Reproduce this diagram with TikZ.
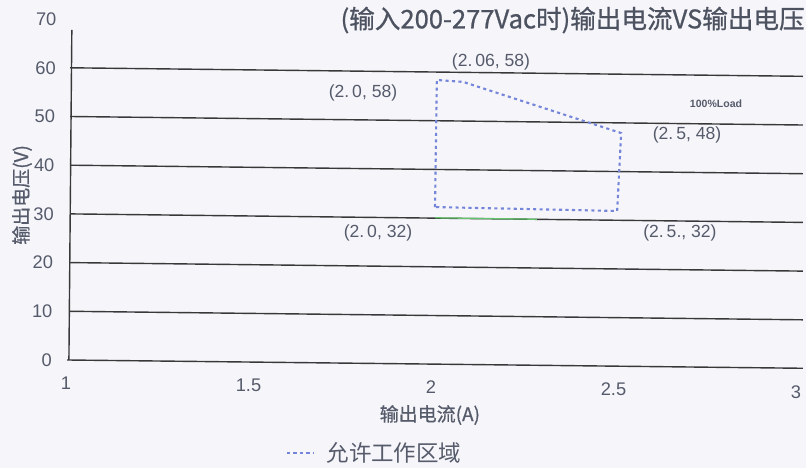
\documentclass[tikz,border=0pt]{standalone}
\usepackage{fontspec}
\setmainfont{Liberation Sans}
\newfontfamily\cjk{Noto Sans CJK SC}
\newfontfamily\cjkm[FakeBold=0.8]{Noto Sans CJK SC}
\usepackage{xcolor}
\usepackage{tikz}
\usetikzlibrary{calc}
\definecolor{paper}{HTML}{F6F5FA}
\definecolor{ink}{HTML}{383838}
\definecolor{txt}{HTML}{555B6B}
\definecolor{dots}{HTML}{7585DA}
\definecolor{scan}{HTML}{62C46A}
\tikzset{
  gline/.style={draw=ink, line width=1pt},
  region/.style={draw=dots, line width=1.5pt, dash pattern=on 2.2pt off 2.4pt},
  ticklab/.style={text=txt, font=\fontsize{13}{15}\selectfont, inner sep=0pt},
  axlab/.style={text=txt, font=\cjkm\fontsize{13.5}{15}\selectfont, inner sep=0pt},
  ptlab/.style={text=txt, font=\fontsize{12.5}{14}\selectfont, inner sep=0pt},
  ttl/.style={text=txt!90!black, font=\cjkm\fontsize{18.2}{20}\selectfont, inner sep=0pt},
}

\begin{document}
\begin{tikzpicture}[x=9.125cm, y=0.12175cm]
  \useasboundingbox[fill=paper] (0.8192,-22.18) rectangle (3.0274,73.92);
  % grid and axes
  \foreach \v in {10,20,...,60}
    \draw[gline] (1.011,\v) -- (3.019,\v-1.75);
  \draw[gline] (1.003,0) -- (3.019,-1.7);
  \draw[gline] (1.008,0) -- (1.016,67.8);
  \draw[draw=scan, line width=0.9pt] (2.011,29.2) -- (2.29,28.9);
  % tick labels
  \foreach \v in {0,10,...,70}
    \node[ticklab, anchor=east] (y\v) at ({0.9616+0.00019*\v},\v) {\v};
  \foreach \x/\n in {1/a,1.5/b,2/c,2.5/d,3/e}
    \node[ticklab] (x\n) at (\x,{-4.72-0.92*(\x-1)}) {\x};
  \node[axlab, rotate=90] (ylab) at (0.8795,33.9) {输出电压(V)};
  \node[axlab] (xlab) at (1.997,-11.3) {输出电流(A)};
  \node[ttl] (title) at (2.388,69.8) {(输入200-277Vac时)输出电流VS输出电压};
  % operating region
  \coordinate (A) at (2.011,31.4);
  \coordinate (B) at (2.016,57.5);
  \coordinate (C) at (2.088,57.1);
  \coordinate (D) at (2.521,46.6);
  \coordinate (E) at (2.510,30.6);
  \draw[region] (A) -- (B) -- (C) -- (D) -- (E) -- cycle;
  \node[ptlab] (pB) at (1.8137,54.8) {(2.\,0, 58)};
  \node[ptlab] (pC) at (2.1644,61.2) {(2.\,06, 58)};
  \node[ptlab] (pD) at (2.7014,46.2) {(2.\,5, 48)};
  \node[ptlab] (pA) at (1.8548,26.1) {(2.\,0, 32)};
  \node[ptlab] (pE) at (2.682,26.1) {(2.\,5., 32)};
  \node[text=txt, font=\bfseries\fontsize{7.5}{9}\selectfont, inner sep=0pt] (load) at (2.781,52.6) {100\%Load};
  % legend
  \coordinate (L1) at (1.6055,-19.1);
  \coordinate (L2) at (1.6767,-19.1);
  \draw[region] (L1) -- (L2);
  \node[axlab, font=\cjk\fontsize{16}{18}\selectfont] (legtxt) at (1.8986,-19.1) {允许工作区域};
\end{tikzpicture}
\end{document}
